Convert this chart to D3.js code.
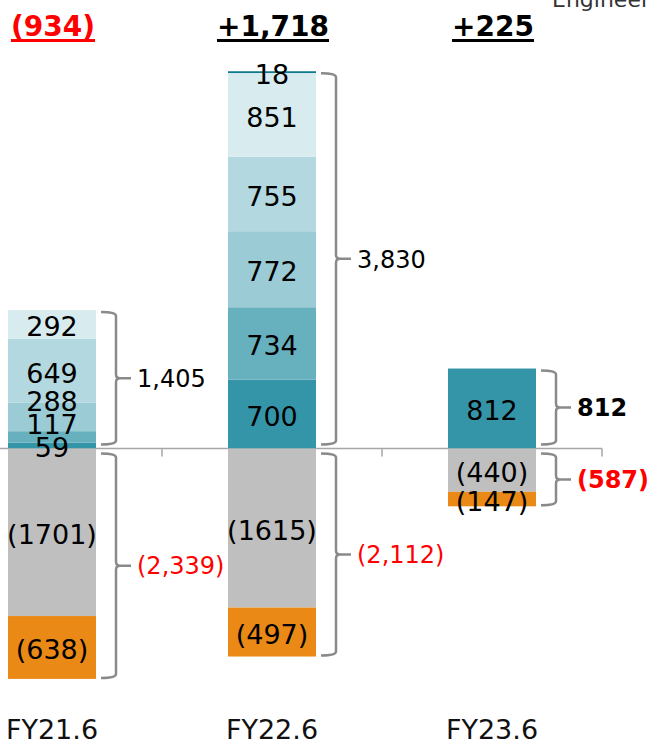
<!DOCTYPE html>
<html>
<head>
<meta charset="utf-8">
<script src="https://cdn.jsdelivr.net/npm/d3@7"></script>
<style>
  html, body { margin: 0; padding: 0; background: #fff; }
  svg { display: block; font-family: "DejaVu Sans", Verdana, sans-serif; }
</style>
</head>
<body>
<svg id="chart" width="649" height="742"></svg>
<script>
// ---------------- data ----------------
const categories = ["FY21.6", "FY22.6", "FY23.6"];
// positive stack, bottom to top
const posA = [59, 700, 812];
const posB = [117, 734, 0];
const posC = [288, 772, 0];
const posD = [649, 755, 0];
const posE = [292, 851, 0];
const posF = [0, 18, 0];
// negative stack, top to bottom
const negA = [-1701, -1615, -440];
const negB = [-638, -497, -147];
const cornerText = "Engineering";

// ---------------- styling ----------------
const posSeries = [posA, posB, posC, posD, posE, posF];
const posColors = ["#3595a8", "#67b0be", "#9bcbd5", "#b3d8df", "#d8ebef", "#11798b"];
const negSeries = [negA, negB];
const negColors = ["#bfbfbf", "#ea8915"];
const boldTotalIndex = 2;

const svg = d3.select("#chart");

const x = d3.scaleBand().domain(categories).range([-58, 602])
  .paddingInner(0.6).paddingOuter(0.3);
const y = d3.scaleLinear().domain([-2500, 4000]).range([694.75, 54.5]);
const y0 = y(0);

// axis line + ticks
const axisG = svg.append("g");
axisG.append("line").attr("x1", 0).attr("x2", x.range()[1])
  .attr("y1", y0).attr("y2", y0).attr("stroke", "#a6a6a6").attr("stroke-width", 1.5);
const tickXs = categories.slice(1).map(c => x(c) - x.step() * x.paddingInner() / 2);
tickXs.push(x.range()[1]);
axisG.selectAll("line.tick").data(tickXs).join("line").attr("class", "tick")
  .attr("x1", d => d).attr("x2", d => d).attr("y1", y0).attr("y2", y0 + 8)
  .attr("stroke", "#a6a6a6").attr("stroke-width", 1.5);

const fmtC = d3.format(",");
const segFS = 27, totFS = 24;

categories.forEach((cat, i) => {
  const bx = x(cat), bw = x.bandwidth(), cx = bx + bw / 2;
  const g = svg.append("g");

  // positive stack
  let cum = 0;
  const posLabels = [];
  posSeries.forEach((s, k) => {
    const v = s[i];
    if (!v) return;
    const yTop = y(cum + v), yBot = y(cum);
    g.append("rect").attr("x", bx).attr("y", yTop).attr("width", bw)
      .attr("height", yBot - yTop).attr("fill", posColors[k]);
    posLabels.push({ text: String(v), c: (yTop + yBot) / 2 + 2 });
    cum += v;
  });
  const posTotal = cum;
  for (let k = 1; k < posLabels.length; k++) {
    posLabels[k].c = Math.min(posLabels[k].c, posLabels[k - 1].c - 23);
  }

  // negative stack
  cum = 0;
  const negLabels = [];
  negSeries.forEach((s, k) => {
    const v = s[i];
    if (!v) return;
    const yTop = y(cum), yBot = y(cum + v);
    g.append("rect").attr("x", bx).attr("y", yTop).attr("width", bw)
      .attr("height", yBot - yTop).attr("fill", negColors[k]);
    negLabels.push({ text: "(" + Math.abs(v) + ")", c: (yTop + yBot) / 2 + 2 });
    cum += v;
  });
  const negTotal = cum;
  for (let k = 1; k < negLabels.length; k++) {
    negLabels[k].c = Math.max(negLabels[k].c, negLabels[k - 1].c + 23);
  }

  posLabels.concat(negLabels).forEach(l => {
    g.append("text").attr("x", cx).attr("y", l.c + segFS * 0.36)
      .attr("text-anchor", "middle").attr("font-size", segFS).attr("fill", "#000")
      .text(l.text);
  });

  // brackets
  const right = bx + bw;
  const bx0 = right + 5, bx1 = right + 20, bx2 = right + 35, r = 4;
  function bracket(top, bot) {
    const mid = (top + bot) / 2;
    const p = `M${bx0},${top} Q${bx1},${top} ${bx1},${top + r} L${bx1},${mid - r} ` +
      `Q${bx1},${mid} ${bx1 + r},${mid} L${bx2},${mid} M${bx1 + r},${mid} ` +
      `Q${bx1},${mid} ${bx1},${mid + r} L${bx1},${bot - r} Q${bx1},${bot} ${bx0},${bot}`;
    g.append("path").attr("d", p).attr("fill", "none")
      .attr("stroke", "#8a8a8a").attr("stroke-width", 2.5);
    return mid;
  }
  const bold = i === boldTotalIndex;
  const pm = bracket(y(posTotal) + 2, y0 - 4);
  g.append("text").attr("x", right + 41).attr("y", pm + totFS * 0.36)
    .attr("font-size", totFS).attr("font-weight", bold ? "bold" : "normal")
    .attr("fill", "#000").text(fmtC(posTotal));
  const nm = bracket(y0 + 5, y(negTotal) - 1);
  g.append("text").attr("x", right + 41).attr("y", nm + totFS * 0.36)
    .attr("font-size", totFS).attr("font-weight", bold ? "bold" : "normal")
    .attr("fill", "#ff0000").text("(" + fmtC(Math.abs(negTotal)) + ")");

  // net header
  const net = posTotal + negTotal;
  const netText = net < 0 ? "(" + fmtC(Math.abs(net)) + ")" : "+" + fmtC(net);
  const netColor = net < 0 ? "#ff0000" : "#000";
  const t = g.append("text").attr("x", cx + 1).attr("y", 36).attr("text-anchor", "middle")
    .attr("font-size", 28).attr("font-weight", "bold").attr("fill", netColor).text(netText);
  const tw = t.node().getComputedTextLength();
  g.append("rect").attr("x", cx + 1 - tw / 2).attr("y", 39).attr("width", tw).attr("height", 3)
    .attr("fill", netColor);

  // category label
  g.append("text").attr("x", cx).attr("y", 739).attr("text-anchor", "middle")
    .attr("font-size", 27).attr("fill", "#111").text(cat);
});

svg.append("text").attr("x", 552).attr("y", 7).attr("font-size", 22)
  .attr("fill", "#333").text(cornerText);
</script>
</body>
</html>
